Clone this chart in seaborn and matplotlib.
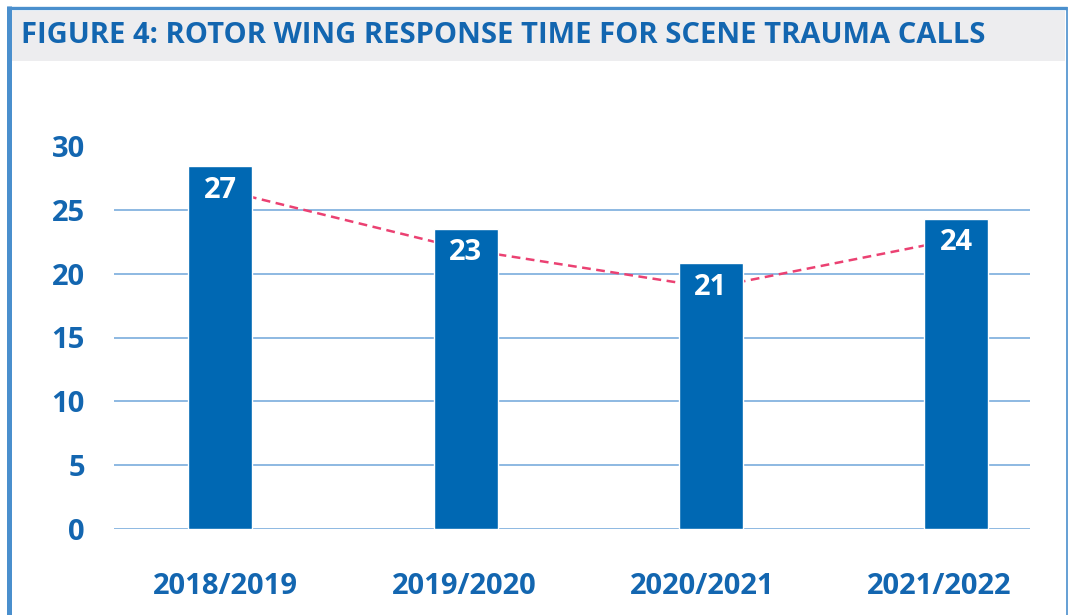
import numpy as np
import pandas as pd
import matplotlib
matplotlib.use("Agg")
import matplotlib.pyplot as plt
from matplotlib.patches import Rectangle
from matplotlib.lines import Line2D
import matplotlib.transforms as mtransforms
import seaborn as sns

# ---- data ----
categories = ["2018/2019", "2019/2020", "2020/2021", "2021/2022"]
bar_values = [28.4, 23.5, 20.8, 24.3]
bar_labels = ["27", "23", "21", "24"]
trend_values = [26.6, 21.9, 18.9, 22.7]
yticks = [0, 5, 10, 15, 20, 25, 30]
title = "FIGURE 4: ROTOR WING RESPONSE TIME FOR SCENE TRAUMA CALLS"

# ---- layout / style ----
xlabel_shift_px = [5, -1, -9, -17]
BLUE = "#0068B3"
TEXT_BLUE = "#1366B0"
GRID = "#6FA6DA"
FRAME = "#4A8FCD"
PINK = "#EB4172"

sns.set_theme(style="white")
plt.rcParams["font.family"] = ["Open Sans", "DejaVu Sans"]

W, H = 1069, 615
fig = plt.figure(figsize=(W / 100, H / 100), dpi=100)

def fx(px):
    return px / W

def fy(py):
    return 1 - py / H

# title band and frame
fig.add_artist(Rectangle((fx(11), fy(61)), fx(1065) - fx(11), (61 - 11) / H,
                         transform=fig.transFigure, facecolor="#EDEDEF",
                         edgecolor="none", zorder=0.5))
fig.add_artist(Line2D([fx(8.5), fx(8.5)], [0, fy(6)], transform=fig.transFigure,
                      color=FRAME, linewidth=3.6, solid_capstyle="butt"))
fig.add_artist(Line2D([fx(6.5), fx(1067)], [fy(7.5), fy(7.5)], transform=fig.transFigure,
                      color=FRAME, linewidth=2.4, solid_capstyle="butt"))
fig.add_artist(Line2D([fx(1066.5), fx(1066.5)], [0, fy(7)], transform=fig.transFigure,
                      color=FRAME, linewidth=1.2, solid_capstyle="butt"))
fig.text(fx(21), fy(43), title, fontsize=21, fontweight="bold",
         color=TEXT_BLUE, va="baseline", ha="left")

ax = fig.add_axes([114 / W, 86 / H, (1030 - 114) / W, (529 - 146) / H])

df = pd.DataFrame({"period": categories, "value": bar_values})
sns.barplot(data=df, x="period", y="value", color=BLUE, saturation=1,
            width=0.26, ax=ax, zorder=2)

sns.lineplot(x=np.arange(len(categories)), y=trend_values, ax=ax,
             color=PINK, linewidth=1.8, dashes=False, zorder=1.5)
for ln in ax.get_lines():
    ln.set_linestyle((0, (3.5, 2.2)))

for i, (v, lab) in enumerate(zip(bar_values, bar_labels)):
    ax.annotate(lab, xy=(i, v), xytext=(0, -22.5), textcoords="offset points",
                ha="center", va="baseline", color="white", fontsize=21,
                fontweight="bold", zorder=3)

ax.set_xlim(-0.433, 3.30)
ax.set_ylim(0, 30)
ax.set_yticks(yticks)
ax.set_yticklabels([str(t) for t in yticks])
ax.set_xlabel("")
ax.set_ylabel("")
for s in ax.spines.values():
    s.set_visible(False)
ax.set_axisbelow(True)
ax.yaxis.grid(True, color=GRID, linewidth=1.1)
ax.xaxis.grid(False)
ax.get_ygridlines()[-1].set_visible(False)
ax.tick_params(axis="y", length=0, pad=21, labelsize=21, labelcolor=TEXT_BLUE)
ax.tick_params(axis="x", length=0, pad=31, labelsize=21, labelcolor=TEXT_BLUE)
for t in ax.get_xticklabels() + ax.get_yticklabels():
    t.set_fontweight("bold")
for t, dx in zip(ax.get_xticklabels(), xlabel_shift_px):
    t.set_transform(t.get_transform() +
                    mtransforms.ScaledTranslation(dx / 100, 0, fig.dpi_scale_trans))
ax.patch.set_alpha(0)

fig.savefig("out.png", dpi=100)
